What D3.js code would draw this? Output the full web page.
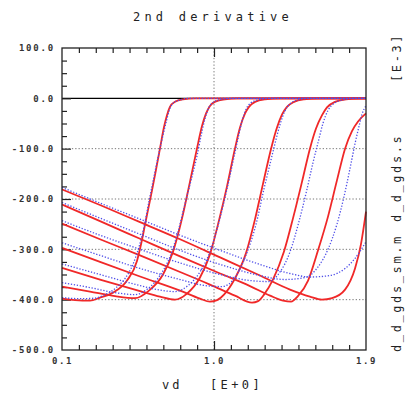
<!DOCTYPE html>
<html>
<head>
<meta charset="utf-8">
<script src="https://cdn.jsdelivr.net/npm/d3@7"></script>
<style>
  body { margin: 0; background: #fff; }
  text { font-family: "DejaVu Sans Mono", monospace; }
</style>
</head>
<body>
<div id="chart"></div>
<script>
// simulated curves (red, solid)  [vd, value E-3]
const red1 = [[0.100,-398],[0.177,-401],[0.266,-402],[0.325,-396],[0.402,-386],[0.485,-362],[0.544,-323],[0.568,-290],[0.591,-252],[0.609,-222],[0.633,-183],[0.657,-141],[0.680,-100],[0.704,-57],[0.722,-33],[0.739,-17],[0.769,-7],[0.816,-2],[0.888,0],[1.900,0]];
const red2 = [[0.100,-374],[0.266,-384],[0.414,-393],[0.532,-397],[0.615,-382],[0.698,-350],[0.757,-305],[0.811,-238],[0.852,-175],[0.899,-100],[0.929,-55],[0.953,-30],[0.976,-15],[1.012,-6],[1.065,-2],[1.136,0],[1.900,0]];
const red3 = [[0.100,-337],[0.325,-360],[0.562,-383],[0.680,-394],[0.769,-400],[0.840,-388],[0.917,-356],[0.976,-310],[1.030,-242],[1.077,-175],[1.124,-100],[1.154,-58],[1.184,-30],[1.207,-17],[1.243,-7],[1.302,-2],[1.391,0],[1.900,0]];
const red4 = [[0.100,-297],[0.325,-325],[0.562,-354],[0.799,-382],[0.917,-398],[0.976,-404],[1.018,-401],[1.059,-390],[1.124,-358],[1.189,-308],[1.243,-240],[1.290,-170],[1.338,-100],[1.373,-58],[1.403,-32],[1.432,-17],[1.474,-7],[1.533,-2],[1.622,0],[1.900,0]];
const red5 = [[0.100,-249],[0.325,-280],[0.562,-312],[0.799,-345],[0.976,-370],[1.124,-392],[1.225,-406],[1.261,-403],[1.296,-390],[1.349,-360],[1.414,-305],[1.468,-238],[1.521,-166],[1.568,-100],[1.604,-60],[1.639,-34],[1.669,-18],[1.716,-7],[1.782,-2],[1.864,0],[1.900,0]];
const red6 = [[0.100,-211],[0.325,-244],[0.562,-279],[0.799,-314],[1.036,-348],[1.213,-373],[1.332,-392],[1.409,-402],[1.456,-404],[1.497,-393],[1.557,-362],[1.616,-302],[1.675,-235],[1.728,-163],[1.776,-100],[1.817,-65],[1.853,-46],[1.900,-30]];
const red7 = [[0.100,-181],[0.325,-212],[0.562,-246],[0.799,-280],[1.036,-316],[1.272,-352],[1.450,-380],[1.568,-394],[1.639,-400],[1.699,-397],[1.776,-380],[1.835,-338],[1.870,-290],[1.900,-225]];

// measured curves (blue, dotted)
const blue1 = [[0.100,-396],[0.207,-398],[0.295,-397],[0.355,-390],[0.414,-378],[0.473,-358],[0.520,-330],[0.556,-295],[0.586,-255],[0.615,-205],[0.645,-155],[0.668,-118],[0.692,-82],[0.716,-48],[0.734,-25],[0.757,-10],[0.799,-3],[0.858,0],[1.900,0]];
const blue2 = [[0.100,-366],[0.266,-376],[0.414,-386],[0.532,-390],[0.609,-378],[0.680,-352],[0.739,-315],[0.787,-265],[0.828,-210],[0.870,-155],[0.899,-115],[0.923,-75],[0.947,-40],[0.970,-18],[1.000,-7],[1.047,-2],[1.107,0],[1.900,0]];
const blue3 = [[0.100,-329],[0.325,-350],[0.562,-372],[0.680,-381],[0.769,-384],[0.846,-372],[0.917,-345],[0.976,-305],[1.030,-245],[1.077,-180],[1.113,-125],[1.142,-80],[1.166,-45],[1.189,-22],[1.219,-9],[1.261,-3],[1.332,0],[1.900,0]];
const blue4 = [[0.100,-287],[0.325,-312],[0.562,-338],[0.799,-360],[0.947,-372],[1.047,-374],[1.124,-356],[1.189,-312],[1.249,-250],[1.296,-180],[1.332,-130],[1.361,-90],[1.391,-52],[1.420,-25],[1.450,-11],[1.497,-3],[1.568,0],[1.900,0]];
const blue5 = [[0.100,-243],[0.325,-272],[0.562,-300],[0.799,-327],[1.036,-350],[1.213,-362],[1.320,-364],[1.391,-345],[1.450,-305],[1.503,-245],[1.551,-180],[1.586,-128],[1.616,-88],[1.645,-50],[1.675,-24],[1.711,-10],[1.764,-3],[1.835,0],[1.900,0]];
const blue6 = [[0.100,-207],[0.325,-238],[0.562,-270],[0.799,-302],[1.036,-330],[1.272,-352],[1.420,-360],[1.539,-356],[1.616,-335],[1.675,-300],[1.728,-250],[1.770,-195],[1.805,-140],[1.835,-90],[1.859,-55],[1.876,-32],[1.900,-15]];
const blue7 = [[0.100,-177],[0.325,-208],[0.562,-240],[0.799,-272],[1.036,-302],[1.272,-330],[1.450,-348],[1.568,-355],[1.687,-352],[1.776,-338],[1.835,-318],[1.900,-285]];

const xLabels = [0.1, 1.0, 1.9];
const yLabels = [100, 0, -100, -200, -300, -400, -500];
const gridY = [-100, -200, -300, -400];
const gridX = [1.0];

const width = 408, height = 393;
const mLeft = 62, mRight = 366, mTop = 48, mBottom = 350;

const svg = d3.select("#chart").append("svg")
    .attr("width", width)
    .attr("height", height);

const x = d3.scaleLinear().domain([0.1, 1.9]).range([mLeft, mRight]);
const y = d3.scaleLinear().domain([-500, 100]).range([mBottom, mTop]);

// grid
svg.append("g").selectAll("line").data(gridY).enter().append("line")
    .attr("x1", mLeft).attr("x2", mRight)
    .attr("y1", d => y(d)).attr("y2", d => y(d))
    .attr("stroke", "#777").attr("stroke-width", 1).attr("stroke-dasharray", "1.3,2");
svg.append("g").selectAll("line").data(gridX).enter().append("line")
    .attr("x1", d => x(d)).attr("x2", d => x(d))
    .attr("y1", mTop).attr("y2", mBottom)
    .attr("stroke", "#777").attr("stroke-width", 1).attr("stroke-dasharray", "1.3,2");

// zero line
svg.append("line")
    .attr("x1", mLeft).attr("x2", mRight)
    .attr("y1", y(0)).attr("y2", y(0))
    .attr("stroke", "#000").attr("stroke-width", 1.3);

// ticks
const minorX = d3.range(2, 19).map(i => i / 10).filter(v => Math.abs(v - 1) > 1e-6);
const minorY = d3.range(-475, 100, 25).filter(v => v % 100 !== 0);
const majorY = [0, -100, -200, -300, -400];

function clean(g) {
    g.select(".domain").remove();
    g.selectAll("line").attr("stroke", "#222").attr("stroke-width", 1.2);
}
svg.append("g").attr("transform", `translate(0,${mTop})`)
    .call(d3.axisTop(x).tickValues(minorX).tickSize(-5).tickFormat(""))
    .call(clean);
svg.append("g").attr("transform", `translate(0,${mTop})`)
    .call(d3.axisTop(x).tickValues([1.0]).tickSize(-9).tickFormat(""))
    .call(clean);
svg.append("g").attr("transform", `translate(0,${mBottom})`)
    .call(d3.axisBottom(x).tickValues(minorX).tickSize(-5).tickFormat(""))
    .call(clean);
svg.append("g").attr("transform", `translate(0,${mBottom})`)
    .call(d3.axisBottom(x).tickValues([1.0]).tickSize(-9).tickFormat(""))
    .call(clean);
svg.append("g").attr("transform", `translate(${mLeft},0)`)
    .call(d3.axisLeft(y).tickValues(minorY).tickSize(-5).tickFormat(""))
    .call(clean);
svg.append("g").attr("transform", `translate(${mLeft},0)`)
    .call(d3.axisLeft(y).tickValues(majorY).tickSize(-9).tickFormat(""))
    .call(clean);

// tick labels
const xl = svg.append("g").attr("transform", `translate(0,${mBottom})`)
    .call(d3.axisBottom(x).tickValues(xLabels).tickSize(0).tickPadding(8).tickFormat(d => d.toFixed(1)));
xl.select(".domain").remove();
xl.selectAll("text").attr("font-family", "DejaVu Sans Mono").attr("font-size", 9)
    .attr("font-weight", "bold").attr("fill", "#333").attr("letter-spacing", 1.6);

const yl = svg.append("g").attr("transform", `translate(${mLeft},0)`)
    .call(d3.axisLeft(y).tickValues(yLabels).tickSize(0).tickPadding(7).tickFormat(d => d.toFixed(1)));
yl.select(".domain").remove();
yl.selectAll("text").attr("font-family", "DejaVu Sans Mono").attr("font-size", 9)
    .attr("font-weight", "bold").attr("fill", "#333").attr("letter-spacing", 1.8);

// curves
const line = d3.line().x(d => x(d[0])).y(d => y(d[1])).curve(d3.curveMonotoneX);
const redCurves = [red1, red2, red3, red4, red5, red6, red7];
const blueCurves = [blue1, blue2, blue3, blue4, blue5, blue6, blue7];

const plot = svg.append("g");
plot.selectAll(".red").data(redCurves).enter().append("path")
    .attr("class", "red")
    .attr("d", line)
    .attr("fill", "none")
    .attr("stroke", "#f02828")
    .attr("stroke-width", 1.8);
plot.selectAll(".blue").data(blueCurves).enter().append("path")
    .attr("class", "blue")
    .attr("d", line)
    .attr("fill", "none")
    .attr("stroke", "#4f4fe8")
    .attr("stroke-width", 1.3)
    .attr("stroke-dasharray", "1.3,1.7");

// frame
svg.append("rect")
    .attr("x", mLeft).attr("y", mTop)
    .attr("width", mRight - mLeft).attr("height", mBottom - mTop)
    .attr("fill", "none").attr("stroke", "#222").attr("stroke-width", 1.3);

// titles
svg.append("text")
    .attr("x", 213).attr("y", 21)
    .attr("text-anchor", "middle")
    .attr("font-size", 12).attr("fill", "#222")
    .attr("letter-spacing", 4.2)
    .text("2nd derivative");

svg.append("text")
    .attr("x", 162).attr("y", 389)
    .attr("font-size", 12).attr("fill", "#222").attr("letter-spacing", 3)
    .text("vd");
svg.append("text")
    .attr("x", 210).attr("y", 389)
    .attr("font-size", 12).attr("fill", "#222").attr("letter-spacing", 3.4)
    .text("[E+0]");

const rightLabels = [
    { t: "d_d_gds_sm.m", y: 352 },
    { t: "d_d_gds.s", y: 222 },
    { t: "[E-3]", y: 82 }
];
svg.append("g").selectAll("text").data(rightLabels).enter().append("text")
    .attr("transform", d => `translate(401,${d.y}) rotate(-90)`)
    .attr("font-size", 12).attr("fill", "#222").attr("letter-spacing", 2.6)
    .text(d => d.t);
</script>
</body>
</html>
